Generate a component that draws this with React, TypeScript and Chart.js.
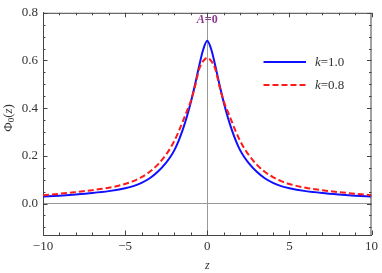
import React, { useEffect, useRef } from "react";
import { Chart, registerables } from "chart.js";

Chart.register(...registerables);

const zValues = [-10, -9, -8, -7, -6, -5, -4.5, -4, -3.5, -3, -2.5, -2.25, -2, -1.75, -1.5, -1.25, -1, -0.75, -0.5, -0.25, 0, 0.25, 0.5, 0.75, 1, 1.25, 1.5, 1.75, 2, 2.25, 2.5, 3, 3.5, 4, 4.5, 5, 6, 7, 8, 9, 10];
const phiK10 = [0.029, 0.033, 0.038, 0.044, 0.052, 0.064, 0.073, 0.087, 0.106, 0.134, 0.172, 0.195, 0.224, 0.262, 0.308, 0.362, 0.425, 0.497, 0.575, 0.645, 0.683, 0.645, 0.575, 0.497, 0.425, 0.362, 0.308, 0.262, 0.224, 0.195, 0.172, 0.134, 0.106, 0.087, 0.073, 0.064, 0.052, 0.044, 0.038, 0.033, 0.029];
const phiK08 = [0.035, 0.041, 0.048, 0.056, 0.066, 0.082, 0.094, 0.111, 0.133, 0.164, 0.206, 0.232, 0.263, 0.3, 0.343, 0.385, 0.43, 0.49, 0.562, 0.597, 0.611, 0.597, 0.562, 0.49, 0.43, 0.385, 0.343, 0.3, 0.263, 0.232, 0.206, 0.164, 0.133, 0.111, 0.094, 0.082, 0.066, 0.056, 0.048, 0.041, 0.035];
const xTickValues = [-10, -5, 0, 5, 10];
const yTickValues = [0, 0.2, 0.4, 0.6, 0.8];
const seriesLabels = ["1.0", "0.8"];
const annotationText = "A=0";

const SERIF = '"Liberation Serif", "DejaVu Serif", serif';
const AXIS_COLOR = "#444";
const TEXT_COLOR = "#333";
const BLUE = "#1010ff";
const RED = "#ff1a1a";

const decorPlugin = {
  id: "decor",
  afterDraw(chart: any) {
    const ctx = chart.ctx as CanvasRenderingContext2D;
    const { left, right, top, bottom } = chart.chartArea;
    const xs = chart.scales.x;
    const ys = chart.scales.y;
    ctx.save();
    ctx.strokeStyle = AXIS_COLOR;
    ctx.lineWidth = 1;
    ctx.beginPath();
    ctx.moveTo(left, top + 0.5);
    ctx.lineTo(right, top + 0.5);
    ctx.moveTo(right - 0.5, top);
    ctx.lineTo(right - 0.5, bottom);
    ctx.stroke();
    ctx.beginPath();
    for (let v = -10; v <= 10; v += 1) {
      const px = Math.round(xs.getPixelForValue(v)) + 0.5;
      const len = v % 5 === 0 ? 4.5 : 2.5;
      ctx.moveTo(px, bottom);
      ctx.lineTo(px, bottom - len);
      ctx.moveTo(px, top);
      ctx.lineTo(px, top + len);
    }
    for (let i = -2; i <= 16; i++) {
      const v = i * 0.05;
      const py = Math.round(ys.getPixelForValue(v)) + 0.5;
      if (py > bottom || py < top) continue;
      const len = i % 4 === 0 ? 4.5 : 2.5;
      ctx.moveTo(left, py);
      ctx.lineTo(left + len, py);
      ctx.moveTo(right, py);
      ctx.lineTo(right - len, py);
    }
    ctx.stroke();

    ctx.fillStyle = "#8e3a8e";
    ctx.textBaseline = "middle";
    ctx.font = `italic bold 12px ${SERIF}`;
    const aW = ctx.measureText("A").width;
    ctx.font = `bold 12px ${SERIF}`;
    const restW = ctx.measureText(annotationText.slice(1)).width;
    const cx = xs.getPixelForValue(0);
    const ax = cx - (aW + restW) / 2;
    ctx.font = `italic bold 12px ${SERIF}`;
    ctx.textAlign = "left";
    ctx.fillText("A", ax, 20);
    ctx.font = `bold 12px ${SERIF}`;
    ctx.fillText(annotationText.slice(1), ax + aW, 20);

    const legendItems = [
      { label: seriesLabels[0], color: BLUE, dash: [] as number[], y: 62 },
      { label: seriesLabels[1], color: RED, dash: [6, 3], y: 85 },
    ];
    for (const it of legendItems) {
      ctx.strokeStyle = it.color;
      ctx.lineWidth = 2;
      ctx.setLineDash(it.dash);
      ctx.beginPath();
      ctx.moveTo(263.5, it.y);
      ctx.lineTo(306, it.y);
      ctx.stroke();
      ctx.setLineDash([]);
      ctx.fillStyle = TEXT_COLOR;
      ctx.font = `italic 13px ${SERIF}`;
      ctx.fillText("k", 315, it.y + 1);
      const kW = ctx.measureText("k").width;
      ctx.font = `13px ${SERIF}`;
      ctx.fillText("=" + it.label, 315 + kW, it.y + 1);
    }

    ctx.fillStyle = TEXT_COLOR;
    ctx.font = `italic 12px ${SERIF}`;
    ctx.textAlign = "center";
    ctx.fillText("z", cx, 266);

    ctx.save();
    ctx.translate(9, 118);
    ctx.rotate(-Math.PI / 2);
    ctx.textAlign = "left";
    const parts = [
      { t: "Φ", f: `13px ${SERIF}`, dy: 0 },
      { t: "0", f: `9px ${SERIF}`, dy: 3 },
      { t: "(", f: `13px ${SERIF}`, dy: 0 },
      { t: "z", f: `italic 13px ${SERIF}`, dy: 0 },
      { t: ")", f: `13px ${SERIF}`, dy: 0 },
    ];
    let total = 0;
    const widths: number[] = [];
    for (const p of parts) {
      ctx.font = p.f;
      const w = ctx.measureText(p.t).width;
      widths.push(w);
      total += w;
    }
    let px = -total / 2;
    parts.forEach((p, i) => {
      ctx.font = p.f;
      ctx.fillText(p.t, px, p.dy);
      px += widths[i];
    });
    ctx.restore();
    ctx.restore();
  },
};

export default function App() {
  const canvasRef = useRef<HTMLCanvasElement | null>(null);

  useEffect(() => {
    const canvas = canvasRef.current;
    if (!canvas) return;
    const chart = new Chart(canvas, {
      type: "line",
      data: {
        datasets: [
          {
            label: "k=1.0",
            data: zValues.map((z, i) => ({ x: z, y: phiK10[i] })),
            borderColor: BLUE,
            borderWidth: 2,
            pointRadius: 0,
            fill: false,
            cubicInterpolationMode: "monotone",
            order: 1,
          },
          {
            label: "k=0.8",
            data: zValues.map((z, i) => ({ x: z, y: phiK08[i] })),
            borderColor: RED,
            borderWidth: 2,
            borderDash: [6, 3],
            pointRadius: 0,
            fill: false,
            cubicInterpolationMode: "monotone",
            order: 0,
          },
        ],
      },
      options: {
        responsive: false,
        animation: false,
        layout: { padding: { left: 0, right: 7, top: 5, bottom: 0 } },
        plugins: { legend: { display: false }, tooltip: { enabled: false } },
        scales: {
          x: {
            type: "linear",
            min: -10,
            max: 10,
            afterBuildTicks: (scale: any) => {
              scale.ticks = xTickValues.map((v) => ({ value: v }));
            },
            afterFit: (scale: any) => {
              scale.height = 38;
            },
            ticks: {
              padding: 4,
              color: TEXT_COLOR,
              font: { family: SERIF, size: 13 },
              maxRotation: 0,
              callback: (v: any) => (Number(v) < 0 ? "\u2212" + Math.abs(Number(v)) : String(v)),
            },
            grid: {
              drawTicks: false,
              color: (c: any) => (c.tick && c.tick.value === 0 ? "#999" : "rgba(0,0,0,0)"),
              lineWidth: 1,
            },
            border: { color: AXIS_COLOR, width: 1 },
          },
          y: {
            type: "linear",
            min: -0.132,
            max: 0.8,
            afterBuildTicks: (scale: any) => {
              scale.ticks = yTickValues.map((v) => ({ value: v }));
            },
            afterFit: (scale: any) => {
              scale.width = 43;
            },
            ticks: {
              padding: 5,
              color: TEXT_COLOR,
              font: { family: SERIF, size: 13 },
              callback: (v: any) => Number(v).toFixed(1),
            },
            grid: {
              drawTicks: false,
              color: (c: any) => (c.tick && c.tick.value === 0 ? "#999" : "rgba(0,0,0,0)"),
              lineWidth: 1,
            },
            border: { color: AXIS_COLOR, width: 1 },
          },
        },
      },
      plugins: [decorPlugin],
    } as any);
    return () => chart.destroy();
  }, []);

  return (
    <div style={{ position: "fixed", left: 0, top: 0, width: 382, height: 273, background: "#fff" }}>
      <canvas ref={canvasRef} width={382} height={273} style={{ display: "block" }} />
    </div>
  );
}
